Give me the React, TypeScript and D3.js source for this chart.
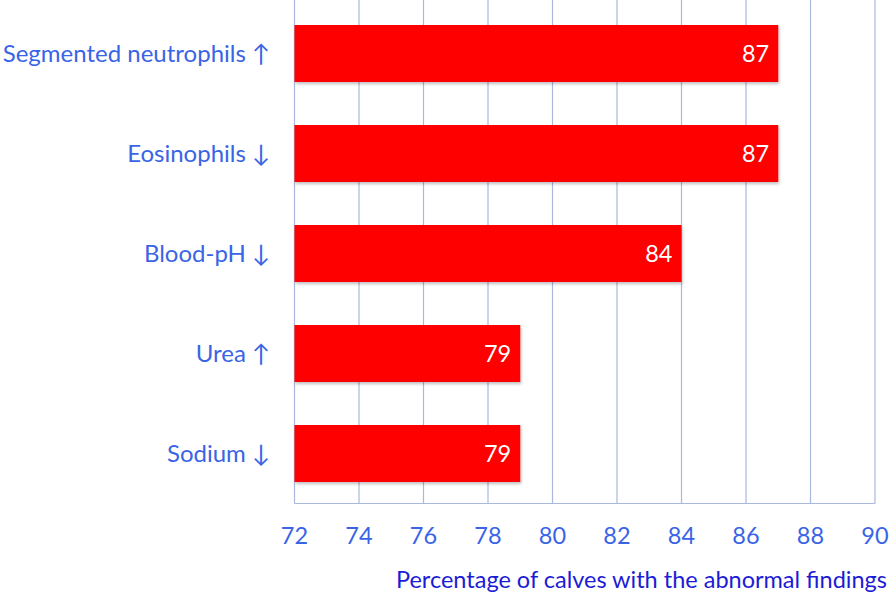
import React from "react";
import * as d3 from "d3";

const categories = ["Segmented neutrophils ↑", "Eosinophils ↓", "Blood-pH ↓", "Urea ↑", "Sodium ↓"];
const values = [87, 87, 84, 79, 79];
const xTicks = [72, 74, 76, 78, 80, 82, 84, 86, 88, 90];
const axisTitle = "Percentage of calves with the abnormal findings";

const W = 896;
const H = 602;
const M = { left: 294.5, right: 21, top: 3.5, bottom: 98.5 };

export default function App() {
  const x = d3.scaleLinear().domain([72, 90]).range([M.left, W - M.right]);
  const y = d3
    .scaleBand<string>()
    .domain(categories)
    .range([M.top, H - M.bottom])
    .paddingInner(0.43)
    .paddingOuter(0.215);
  const font = "Lato, sans-serif";
  const fs = 23.5;
  const bottom = H - M.bottom;
  return (
    <div style={{ position: "absolute", left: 0, top: 0 }}>
      <svg width={W} height={H} style={{ display: "block", background: "#fff" }}>
        <defs>
          <filter id="sh" x="-5%" y="-10%" width="110%" height="130%">
            <feDropShadow dx="1" dy="2" stdDeviation="1.5" floodColor="#000" floodOpacity="0.25" />
          </filter>
        </defs>
        {xTicks.map((t) => (
          <line key={t} x1={x(t)} x2={x(t)} y1={0} y2={bottom} stroke="#aab8dd" strokeWidth={1.2} />
        ))}
        <line x1={x(72)} x2={x(90)} y1={bottom} y2={bottom} stroke="#aab8dd" strokeWidth={1.2} />
        {categories.map((c, i) => (
          <g key={c}>
            <rect
              x={x(72)}
              y={y(c)}
              width={x(values[i]) - x(72)}
              height={y.bandwidth()}
              fill="#ff0000"
              filter="url(#sh)"
            />
            <text
              x={x(values[i]) - 9}
              y={(y(c) as number) + y.bandwidth() / 2}
              dy="0.36em"
              textAnchor="end"
              fill="#fff"
              fontFamily={font}
              fontSize={fs}
            >
              {values[i]}
            </text>
            <text
              x={270}
              y={(y(c) as number) + y.bandwidth() / 2}
              dy="0.36em"
              textAnchor="end"
              fill="#3a64e6"
              fontFamily={font}
              fontSize={24}
            >
              {c}
            </text>
          </g>
        ))}
        {xTicks.map((t) => (
          <text
            key={t}
            x={x(t)}
            y={536}
            dy="0.36em"
            textAnchor="middle"
            fill="#3a64e6"
            fontFamily={font}
            fontSize={fs}
          >
            {t}
          </text>
        ))}
        <text
          x={887}
          y={580}
          dy="0.36em"
          textAnchor="end"
          fill="#1c1cd6"
          fontFamily={font}
          fontSize={fs}
        >
          {axisTitle}
        </text>
      </svg>
    </div>
  );
}
